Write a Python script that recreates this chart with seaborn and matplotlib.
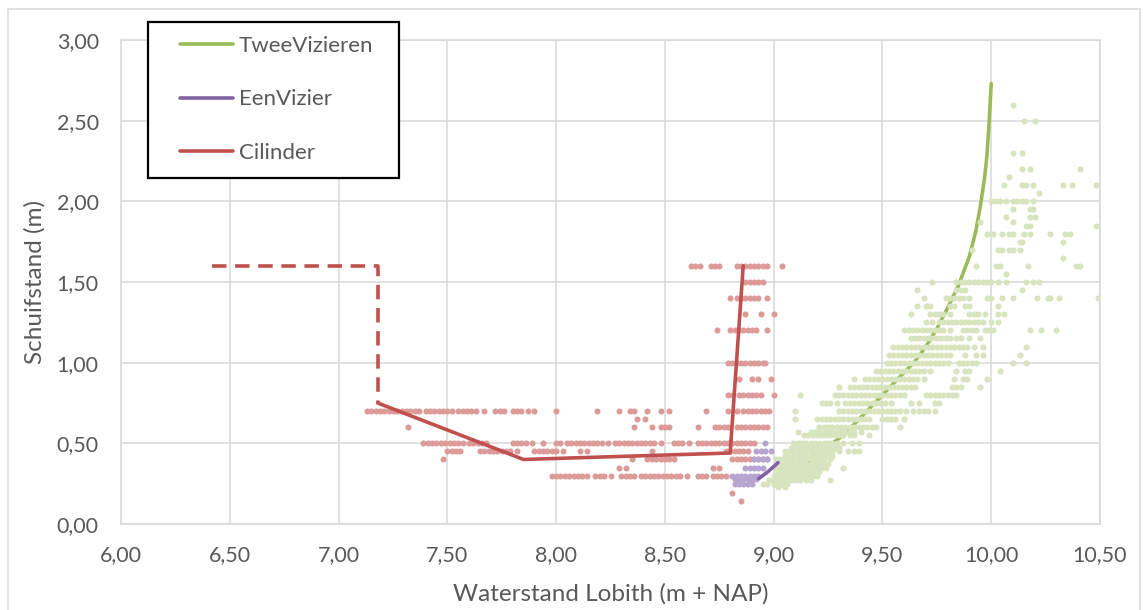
import matplotlib
matplotlib.use("Agg")
import matplotlib.pyplot as plt
from matplotlib.lines import Line2D
from matplotlib.patches import Rectangle
from matplotlib.ticker import FuncFormatter
import seaborn as sns
import pandas as pd

# ---------------- data ----------------
# Curves (lines)
tv_line_x = [9.00, 9.05, 9.10, 9.15, 9.20, 9.25, 9.30, 9.35, 9.40, 9.45, 9.50, 9.55, 9.60,
             9.65, 9.70, 9.75, 9.80, 9.85, 9.90, 9.93, 9.95, 9.97, 9.98, 9.99, 10.00]
tv_line_y = [0.25, 0.29, 0.33, 0.38, 0.43, 0.48, 0.53, 0.59, 0.66, 0.73, 0.80, 0.87, 0.94,
             1.01, 1.10, 1.21, 1.34, 1.48, 1.66, 1.82, 1.97, 2.15, 2.28, 2.48, 2.73]
ev_line_x = [8.93, 8.97, 9.02]
ev_line_y = [0.28, 0.32, 0.38]
cil_dash_x = [6.42, 7.18, 7.18]
cil_dash_y = [1.60, 1.60, 0.75]
cil_line_x = [7.18, 7.85, 8.80, 8.86]
cil_line_y = [0.75, 0.40, 0.44, 1.60]

# Measurements (scatter), grouped by Schuifstand level
cil_levels = [1.60, 1.50, 1.40, 1.30, 1.20, 1.00, 0.90, 0.80, 0.70, 0.65, 0.60, 0.50, 0.45,
              0.40, 0.35, 0.30, 0.19, 0.14]
cil_xs = [
    [8.62, 8.64, 8.66, 8.71, 8.73, 8.75, 8.83, 8.85, 8.87, 8.89, 8.91, 8.93, 8.95, 8.97, 9.04],
    [8.87, 8.89, 8.91, 8.93, 8.95],
    [8.80, 8.83, 8.85, 8.87, 8.89, 8.91, 8.93, 8.97],
    [8.87, 8.94, 9.00],
    [8.74, 8.80, 8.82, 8.84, 8.86, 8.88, 8.90, 8.92, 8.97],
    [8.79, 8.81, 8.83, 8.85, 8.87, 8.89, 8.91, 8.93, 8.95, 8.96],
    [8.84, 8.90, 8.93, 8.99],
    [8.79, 8.81, 8.84, 8.86, 8.88, 8.90, 8.92, 8.94, 9.00],
    [7.13, 7.15, 7.17, 7.19, 7.21, 7.23, 7.25, 7.27, 7.29, 7.31, 7.33, 7.35, 7.37, 7.40, 7.42,
     7.44, 7.46, 7.48, 7.50, 7.52, 7.55, 7.57, 7.59, 7.61, 7.63, 7.67, 7.72, 7.74, 7.76, 7.80,
     7.82, 7.84, 7.87, 7.90, 8.00, 8.19, 8.29, 8.34, 8.36, 8.42, 8.48, 8.52, 8.69, 8.79, 8.83,
     8.86, 8.88, 8.90, 8.92, 8.94, 8.96, 8.98],
    [8.37, 8.41],
    [7.32, 8.36, 8.44, 8.48, 8.50, 8.52, 8.65, 8.73, 8.75, 8.77, 8.79, 8.83, 8.85, 8.87, 8.89,
     8.91, 8.93, 8.95, 8.97],
    [7.39, 7.41, 7.43, 7.45, 7.47, 7.49, 7.51, 7.53, 7.55, 7.57, 7.60, 7.62, 7.64, 7.66, 7.68,
     7.80, 7.82, 7.84, 7.86, 7.89, 7.94, 8.00, 8.02, 8.05, 8.07, 8.09, 8.11, 8.13, 8.15, 8.17,
     8.19, 8.21, 8.24, 8.27, 8.29, 8.31, 8.33, 8.35, 8.37, 8.39, 8.41, 8.43, 8.45, 8.48, 8.54,
     8.56, 8.58, 8.61, 8.65, 8.67, 8.69, 8.71, 8.73, 8.75, 8.77, 8.79, 8.81, 8.83, 8.85, 8.87,
     8.89, 8.91],
    [7.50, 7.52, 7.54, 7.56, 7.65, 7.67, 7.69, 7.71, 7.73, 7.75, 7.77, 7.79, 7.82, 7.90, 7.92,
     7.94, 7.96, 7.98, 8.00, 8.03, 8.11, 8.14, 8.44, 8.78, 8.80, 8.82, 8.84, 8.86, 8.88],
    [7.48, 8.35, 8.42, 8.44, 8.46, 8.48, 8.50, 8.52, 8.54, 8.81, 8.83, 8.85, 8.87, 8.89, 8.91,
     8.93, 8.95, 8.97],
    [8.29, 8.32, 8.72, 8.75],
    [7.98, 8.00, 8.02, 8.04, 8.06, 8.08, 8.10, 8.12, 8.14, 8.18, 8.20, 8.22, 8.25, 8.30, 8.32,
     8.34, 8.36, 8.39, 8.41, 8.43, 8.45, 8.47, 8.49, 8.51, 8.53, 8.55, 8.57, 8.60, 8.65, 8.67,
     8.69, 8.72, 8.74, 8.76, 8.78],
    [8.81],
    [8.85],
]

ev_levels = [0.50, 0.45, 0.40, 0.35, 0.30, 0.28, 0.25]
ev_xs = [
    [8.96],
    [8.92, 8.94, 8.96, 8.99],
    [8.91, 8.93, 8.95, 8.97],
    [8.87, 8.89, 8.91, 8.93, 8.95],
    [8.81, 8.83, 8.85, 8.87, 8.89, 8.91, 8.93],
    [8.82, 8.84, 8.86, 8.88, 8.90, 8.92],
    [8.82, 8.84, 8.86, 8.88, 8.90],
]

tv_levels = [0.23, 0.25, 0.27, 0.30, 0.32, 0.35, 0.37, 0.40, 0.42, 0.45, 0.47, 0.50, 0.55,
             0.57, 0.60, 0.65, 0.70, 0.75, 0.80, 0.85, 0.90, 0.95, 1.00, 1.05, 1.10, 1.15,
             1.20, 1.25, 1.30, 1.35, 1.40, 1.45, 1.50, 1.55, 1.60, 1.65, 1.70, 1.75, 1.80,
             1.85, 1.87, 1.90, 1.95, 2.00, 2.05, 2.10, 2.15, 2.20, 2.30, 2.50, 2.60]
tv_xs = [
    [9.02, 9.05],
    [8.95, 8.97, 9.00, 9.02, 9.04, 9.06],
    [8.98, 9.00, 9.02, 9.04, 9.06, 9.08, 9.10, 9.12, 9.15, 9.17, 9.26],
    [9.00, 9.02, 9.04, 9.06, 9.08, 9.10, 9.12, 9.14, 9.16, 9.18, 9.20],
    [9.01, 9.03, 9.05, 9.07, 9.09, 9.11, 9.13, 9.15, 9.17, 9.19, 9.21],
    [9.00, 9.02, 9.04, 9.06, 9.08, 9.10, 9.12, 9.14, 9.16, 9.18, 9.20, 9.22, 9.24, 9.32],
    [9.03, 9.05, 9.07, 9.09, 9.11, 9.13, 9.15, 9.17, 9.19, 9.21, 9.23, 9.25],
    [9.01, 9.03, 9.05, 9.07, 9.09, 9.11, 9.13, 9.15, 9.17, 9.19, 9.21, 9.23, 9.26],
    [9.05, 9.07, 9.09, 9.11, 9.13, 9.15, 9.17, 9.19, 9.21, 9.23, 9.25, 9.27],
    [9.05, 9.07, 9.09, 9.11, 9.13, 9.15, 9.17, 9.19, 9.21, 9.23, 9.25, 9.27, 9.30, 9.34, 9.37,
     9.39],
    [9.08, 9.10, 9.12, 9.14, 9.16, 9.18, 9.20, 9.22, 9.24, 9.26, 9.28, 9.30],
    [9.09, 9.11, 9.13, 9.15, 9.17, 9.19, 9.21, 9.23, 9.25, 9.27, 9.29, 9.32, 9.36, 9.39],
    [9.14, 9.16, 9.18, 9.20, 9.22, 9.24, 9.26, 9.28, 9.30, 9.32, 9.35, 9.37, 9.44],
    [9.11, 9.17, 9.19, 9.21, 9.23, 9.25, 9.27, 9.29, 9.31, 9.33, 9.35, 9.37, 9.40],
    [9.21, 9.23, 9.25, 9.27, 9.29, 9.31, 9.33, 9.35, 9.37, 9.39, 9.41, 9.43, 9.45, 9.47, 9.58],
    [9.10, 9.20, 9.22, 9.24, 9.26, 9.28, 9.30, 9.32, 9.34, 9.36, 9.38, 9.40, 9.42, 9.44, 9.50,
     9.52, 9.54, 9.56, 9.60],
    [9.10, 9.30, 9.32, 9.34, 9.36, 9.38, 9.40, 9.42, 9.44, 9.46, 9.48, 9.50, 9.52, 9.54, 9.56,
     9.58, 9.61, 9.64, 9.67, 9.69, 9.71, 9.74],
    [9.22, 9.24, 9.26, 9.29, 9.33, 9.35, 9.37, 9.39, 9.41, 9.43, 9.45, 9.47, 9.49, 9.51, 9.54,
     9.63, 9.67, 9.74, 9.76],
    [9.12, 9.28, 9.30, 9.32, 9.34, 9.36, 9.38, 9.40, 9.42, 9.44, 9.46, 9.48, 9.50, 9.52, 9.54,
     9.56, 9.58, 9.60, 9.70, 9.72, 9.74, 9.76, 9.78, 9.80, 9.82, 9.84],
    [9.30, 9.35, 9.37, 9.39, 9.41, 9.43, 9.45, 9.47, 9.49, 9.51, 9.53, 9.55, 9.57, 9.59, 9.61,
     9.63, 9.65, 9.82, 9.84, 9.86, 9.95],
    [9.37, 9.42, 9.44, 9.46, 9.48, 9.50, 9.52, 9.54, 9.56, 9.58, 9.60, 9.62, 9.64, 9.66, 9.69,
     9.83, 9.87, 9.89, 9.98],
    [9.47, 9.49, 9.51, 9.53, 9.55, 9.57, 9.59, 9.61, 9.63, 9.65, 9.67, 9.69, 9.72, 9.84, 9.88,
     9.90, 10.04],
    [9.52, 9.54, 9.56, 9.58, 9.60, 9.62, 9.64, 9.66, 9.68, 9.70, 9.72, 9.74, 9.76, 9.78, 9.80,
     9.85, 9.87, 9.89, 9.91, 9.93, 10.10, 10.16],
    [9.53, 9.55, 9.57, 9.59, 9.61, 9.63, 9.65, 9.67, 9.69, 9.71, 9.73, 9.75, 9.77, 9.79, 9.81,
     9.88, 9.93, 9.96, 10.13],
    [9.55, 9.57, 9.59, 9.61, 9.63, 9.65, 9.67, 9.69, 9.71, 9.73, 9.75, 9.77, 9.79, 9.81, 9.83,
     9.85, 9.87, 9.89, 9.92, 9.96, 10.16],
    [9.63, 9.65, 9.67, 9.69, 9.71, 9.73, 9.75, 9.77, 9.79, 9.81, 9.84, 9.86, 9.90, 9.95],
    [9.60, 9.62, 9.64, 9.66, 9.68, 9.70, 9.72, 9.74, 9.76, 9.78, 9.81, 9.87, 9.89, 9.91, 9.93,
     9.97, 9.99, 10.01, 10.18, 10.23, 10.30],
    [9.70, 9.73, 9.76, 9.78, 9.80, 9.82, 9.84, 9.86, 9.88, 9.90, 9.92, 9.94, 9.96, 10.00, 10.03],
    [9.63, 9.72, 9.74, 9.76, 9.78, 9.81, 9.90, 9.92, 9.94, 9.97, 10.03, 10.06],
    [9.66, 9.70, 9.72, 9.81, 9.83, 9.88, 9.90, 10.03],
    [9.69, 9.79, 9.81, 9.83, 9.85, 9.87, 9.90, 9.98, 10.00, 10.05, 10.10, 10.21, 10.26, 10.27,
     10.31, 10.49],
    [9.66, 9.84, 9.86, 9.88, 10.14],
    [9.73, 9.84, 9.86, 9.88, 9.90, 9.92, 9.94, 9.96, 9.98, 10.00, 10.03, 10.07, 10.16, 10.19,
     10.22],
    [10.07],
    [9.93, 10.02, 10.04, 10.17, 10.39, 10.41],
    [10.33],
    [9.91, 10.03, 10.05, 10.08, 10.10, 10.13],
    [10.13, 10.14, 10.33],
    [9.98, 10.01, 10.05, 10.08, 10.10, 10.15, 10.18, 10.27, 10.34, 10.36],
    [10.16, 10.18, 10.48],
    [9.95, 10.10],
    [10.07, 10.18, 10.20],
    [10.10, 10.18, 10.19],
    [10.00, 10.02, 10.04, 10.07, 10.10, 10.12, 10.14, 10.16, 10.19],
    [10.22],
    [10.06, 10.14, 10.16, 10.19, 10.33, 10.37, 10.48],
    [10.08],
    [10.14, 10.18, 10.41],
    [10.10, 10.14],
    [10.15, 10.20],
    [10.10],
]

series_names = ["TweeVizieren", "EenVizier", "Cilinder"]
x_ticks = [6.0, 6.5, 7.0, 7.5, 8.0, 8.5, 9.0, 9.5, 10.0, 10.5]
y_ticks = [0.0, 0.5, 1.0, 1.5, 2.0, 2.5, 3.0]

# ---------------- styling ----------------
C_GREEN, C_GREEN_PT = "#9BBB59", "#D7E4BD"
C_PURPLE, C_PURPLE_PT = "#8064A2", "#B5A5D0"
C_RED, C_RED_PT = "#C0504D", "#DC9A98"
GRID = "#D9D9D9"
TXT = "#595959"
FONT = ["Lato", "DejaVu Sans"]

sns.set_style("white")
plt.rcParams["font.family"] = FONT


def to_frame(levels, xs):
    rows = []
    for lvl, row in zip(levels, xs):
        for xv in row:
            rows.append((xv, lvl))
    return pd.DataFrame(rows, columns=["x", "y"])


W, H = 1143, 610
fig = plt.figure(figsize=(W / 100, H / 100), dpi=100)
ax = fig.add_axes([121 / W, 1 - 524 / H, (1100 - 121) / W, (524 - 40) / H])

LW = 2.6
MS = 19

# Cilinder
sns.scatterplot(data=to_frame(cil_levels, cil_xs), x="x", y="y", color=C_RED_PT, s=MS,
                linewidth=0, ax=ax, zorder=3, legend=False)
sns.lineplot(x=cil_line_x, y=cil_line_y, sort=False, estimator=None, color=C_RED,
             linewidth=LW, ax=ax, zorder=4)
sns.lineplot(x=cil_dash_x, y=cil_dash_y, sort=False, estimator=None, color=C_RED,
             linewidth=LW, ax=ax, zorder=4, linestyle=(0, (4.0, 2.4)))
# TweeVizieren
sns.lineplot(x=tv_line_x, y=tv_line_y, sort=False, estimator=None, color=C_GREEN,
             linewidth=LW, ax=ax, zorder=5)
sns.scatterplot(data=to_frame(tv_levels, tv_xs), x="x", y="y", color=C_GREEN_PT, s=MS,
                linewidth=0, ax=ax, zorder=6, legend=False)
# EenVizier
sns.scatterplot(data=to_frame(ev_levels, ev_xs), x="x", y="y", color=C_PURPLE_PT, s=MS,
                linewidth=0, ax=ax, zorder=7, legend=False)
sns.lineplot(x=ev_line_x, y=ev_line_y, sort=False, estimator=None, color=C_PURPLE,
             linewidth=LW, ax=ax, zorder=8)

ax.set_xlim(6.0, 10.5)
ax.set_ylim(0.0, 3.0)
ax.set_xticks(x_ticks)
ax.set_yticks(y_ticks)
fmt = FuncFormatter(lambda v, p: f"{v:.2f}".replace(".", ","))
ax.xaxis.set_major_formatter(fmt)
ax.yaxis.set_major_formatter(fmt)
ax.grid(True, color=GRID, linewidth=1.1, zorder=0)
ax.set_axisbelow(True)
for sp in ax.spines.values():
    sp.set_color(GRID)
    sp.set_linewidth(1.1)
ax.tick_params(axis="x", length=0, pad=15, labelsize=15.5, labelcolor=TXT)
ax.tick_params(axis="y", length=0, pad=16, labelsize=15.5, labelcolor=TXT)

ax.set_xlabel("Waterstand Lobith (m + NAP)", fontsize=17.5, color=TXT)
ax.set_ylabel("Schuifstand (m)", fontsize=17.5, color=TXT)
ax.xaxis.set_label_coords(0.5, (524 - 594) / 484)
ax.xaxis.label.set_va("center")
ax.yaxis.set_label_coords((35 - 121) / 979, 0.5)
ax.yaxis.label.set_va("center")

# outer chart border
fig.add_artist(Rectangle((8 / W, -0.02), (1140 - 8) / W, 1 - 9 / H + 0.02,
                         transform=fig.transFigure, fill=False, edgecolor=GRID,
                         linewidth=1.1, zorder=1))
# legend frame
fig.add_artist(Rectangle((148 / W, 1 - 178 / H), (399 - 148) / W, (178 - 22) / H,
                         transform=fig.transFigure, facecolor="white", edgecolor="black",
                         linewidth=1.6, zorder=9))
handles = [Line2D([0], [0], color=C_GREEN, lw=LW),
           Line2D([0], [0], color=C_PURPLE, lw=LW),
           Line2D([0], [0], color=C_RED, lw=LW)]
leg = fig.legend(handles, series_names, loc="upper left",
                 bbox_to_anchor=(180 / W, 1 - 36 / H), frameon=False, fontsize=16,
                 handlelength=2.4, handletextpad=0.25, labelspacing=1.5, borderpad=0,
                 borderaxespad=0)
leg.set_zorder(10)
for t in leg.get_texts():
    t.set_color(TXT)

fig.savefig("out.png", dpi=100)
